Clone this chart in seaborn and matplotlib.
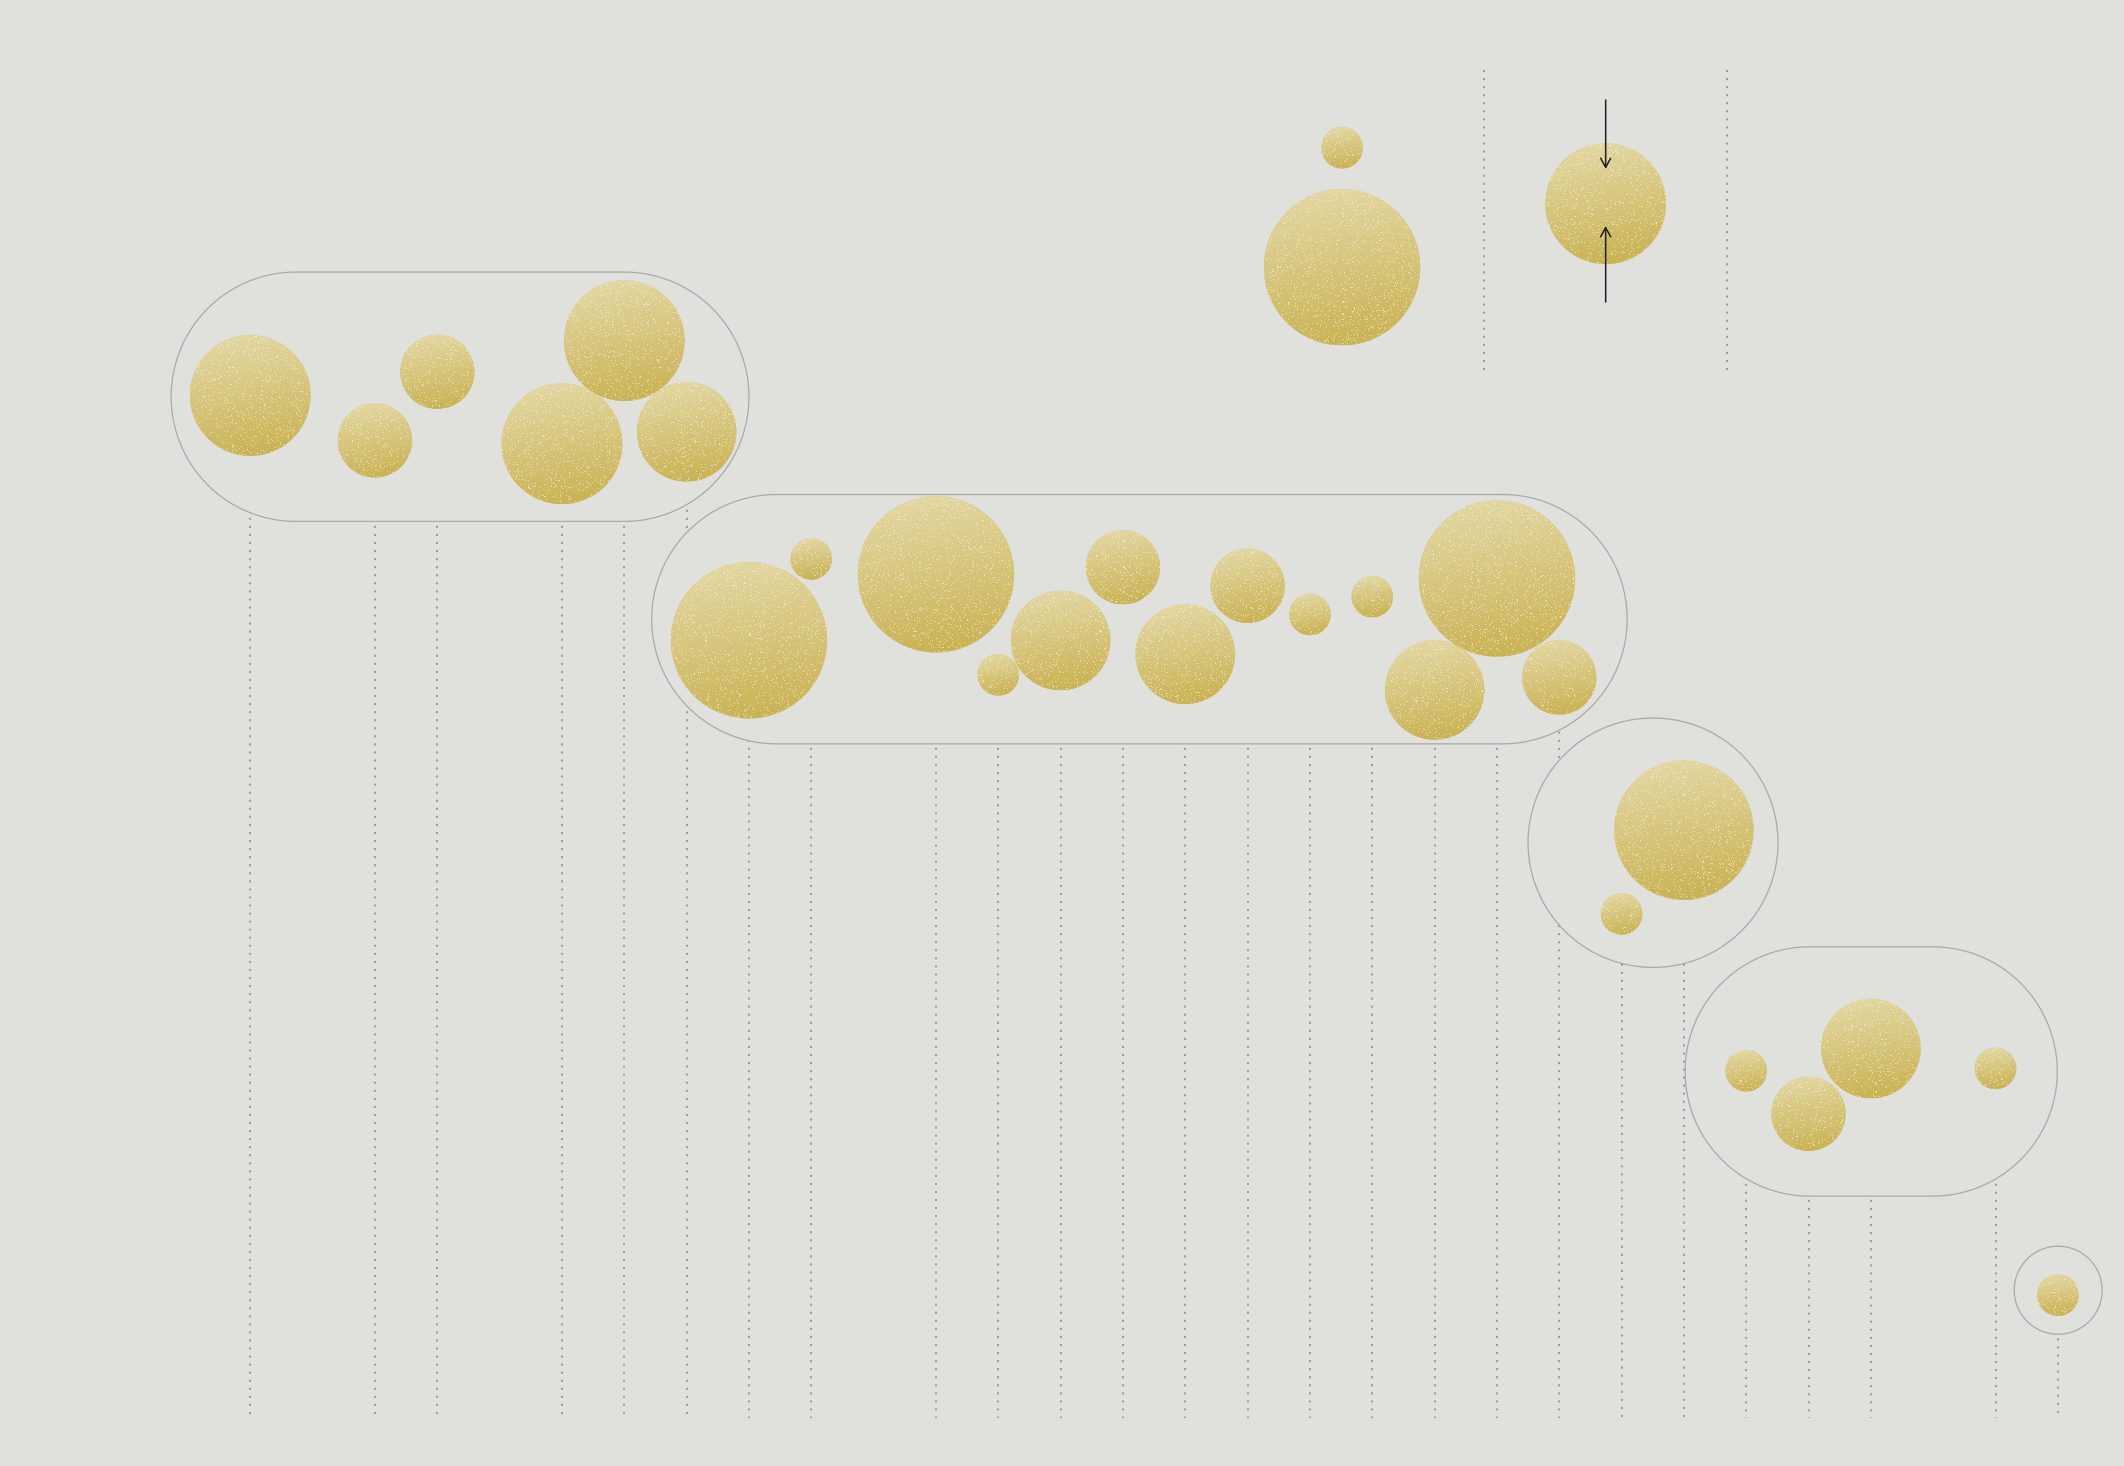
import numpy as np
import pandas as pd
from matplotlib import pyplot as plt
from matplotlib.patches import Circle, Polygon
import seaborn as sns

# bubbles: column index, group, size value (1..6), vertical offset inside the group
columns = [0, 2, 3, 5, 6, 7,
           8, 9, 11, 12, 13, 14, 15, 16, 17, 18, 19, 20, 21,
           22, 23,
           24, 25, 26, 28,
           29]
groups = [1] * 6 + [2] * 13 + [3] * 2 + [4] * 4 + [5]
values = [4, 2, 2, 4, 4, 3,
          6, 1, 6, 1, 3, 2, 3, 2, 1, 1, 3, 6, 2,
          1, 5,
          1, 2, 3, 1,
          1]
offsets = [-0.02, 0.70, -0.40, 0.754, -0.90, 0.563,
           0.339, -0.966, -0.72, 0.892, 0.342, -0.833, 0.563, -0.536, -0.075, -0.361, 1.136, -0.653, 0.935,
           1.142, -0.20,
           -0.011, 0.679, -0.367, -0.048,
           0.08]

# group enclosures
group_ids = [1, 2, 3, 4, 5]
group_left = [-1.27, 6.44, 20.50, 23.02, 28.30]
group_right = [8.00, 22.09, 24.51, 28.99, 29.71]
group_y = [6.365, 9.934, 13.52, 17.19, 20.70]
group_half = [2.0, 2.0, 2.0, 2.0, 0.706]

# legend
legend_values = [1, 6]
legend_y = [2.37, 4.288]
legend_x = 17.515
arrow_value = 4
arrow_x = 21.745
arrow_y = 3.268
legend_lines_x = [19.79, 23.69]
legend_lines_y = (1.123, 6.016)
bottom_y = 22.745

BG = "#e0e1dc"
TOP = np.array([228, 218, 168]) / 255
BOT = np.array([200, 176, 78]) / 255
SPECK = np.array([248, 245, 225]) / 255
PX = 62.33  # pixels per column unit

def radius(v):
    return (20.8 + 39.6 * (np.sqrt(v) - 1)) / PX

def bubble_image(n, rng):
    yy, xx = np.mgrid[0:n, 0:n] / max(n - 1, 1)
    t = np.clip(0.85 * yy + 0.15 * xx, 0, 1)[..., None]
    img = TOP * (1 - t) + BOT * t
    speck = rng.random((n, n)) < 0.07
    img[speck] = img[speck] * 0.4 + SPECK * 0.6
    return img

def pill_points(left, right, cy, h, n=120):
    # two half circles joined by straight lines (stadium)
    a = np.linspace(-np.pi / 2, np.pi / 2, n)
    rx = right - h
    lx = left + h
    right_arc = np.column_stack([rx + h * np.cos(a), cy + h * np.sin(a)])
    left_arc = np.column_stack([lx - h * np.cos(a), cy - h * np.sin(a)])
    return np.vstack([right_arc, left_arc])

df = pd.DataFrame({"col": columns, "group": groups, "value": values, "offset": offsets})
gdf = pd.DataFrame({"group": group_ids, "left": group_left, "right": group_right,
                    "gy": group_y, "half": group_half})
df = df.merge(gdf[["group", "gy"]], on="group")
df["y"] = df["gy"] + df["offset"]

sns.set_theme(style="white", rc={"axes.facecolor": BG, "figure.facecolor": BG})

fig = plt.figure(figsize=(21.24, 14.66), dpi=100)
ax = fig.add_axes([0, 0, 1, 1])
ax.set_facecolor(BG)

# dotted guide lines
for _, row in df.iterrows():
    ax.plot([row["col"], row["col"]], [row["gy"], bottom_y], color="#9b9b9b",
            lw=1.45, linestyle=(0, (1, 3)), zorder=1)
for lx in legend_lines_x:
    ax.plot([lx, lx], list(legend_lines_y), color="#9b9b9b",
            lw=1.45, linestyle=(0, (1, 3)), zorder=1)

# group enclosures
for _, g in gdf.iterrows():
    pts = pill_points(g["left"], g["right"], g["gy"], g["half"])
    ax.add_patch(Polygon(pts, closed=True, facecolor=BG, edgecolor="#a9a9a9",
                         lw=0.9, zorder=2))

# bubble bases via seaborn
all_x = list(df["col"]) + [legend_x] * len(legend_values) + [arrow_x]
all_y = list(df["y"]) + legend_y + [arrow_y]
all_v = list(df["value"]) + legend_values + [arrow_value]
bdf = pd.DataFrame({"x": all_x, "y": all_y, "v": all_v})
size_map = {v: (2 * radius(v) * PX * 0.72) ** 2 for v in range(1, 7)}
sns.scatterplot(data=bdf, x="x", y="y", size="v", sizes=size_map, color="#d8ca88",
                linewidth=0, legend=False, ax=ax, zorder=3)

# gradient + grain fill
rng = np.random.default_rng(7)
for _, b in bdf.iterrows():
    r = radius(b["v"])
    n = int(round(2 * r * PX))
    im = ax.imshow(bubble_image(n, rng), extent=(b["x"] - r, b["x"] + r, b["y"] + r, b["y"] - r),
                   origin="upper", interpolation="nearest", zorder=4)
    im.set_clip_path(Circle((b["x"], b["y"]), r, transform=ax.transData))

# arrows in legend
arrow_style = dict(arrowstyle="->,head_length=0.55,head_width=0.3", color="#1e1e1e",
                   lw=1.1, shrinkA=0, shrinkB=0)
ax.annotate("", xy=(arrow_x, 2.711), xytext=(arrow_x, 1.604), arrowprops=arrow_style, zorder=5)
ax.annotate("", xy=(arrow_x, 3.626), xytext=(arrow_x, 4.845), arrowprops=arrow_style, zorder=5)

ax.set_xlim(-250.3 / PX, (2124 - 250.3) / PX)
ax.set_ylim(1466 / PX, 0)
ax.set_axis_off()

fig.savefig("out.png", dpi=100, facecolor=BG)
